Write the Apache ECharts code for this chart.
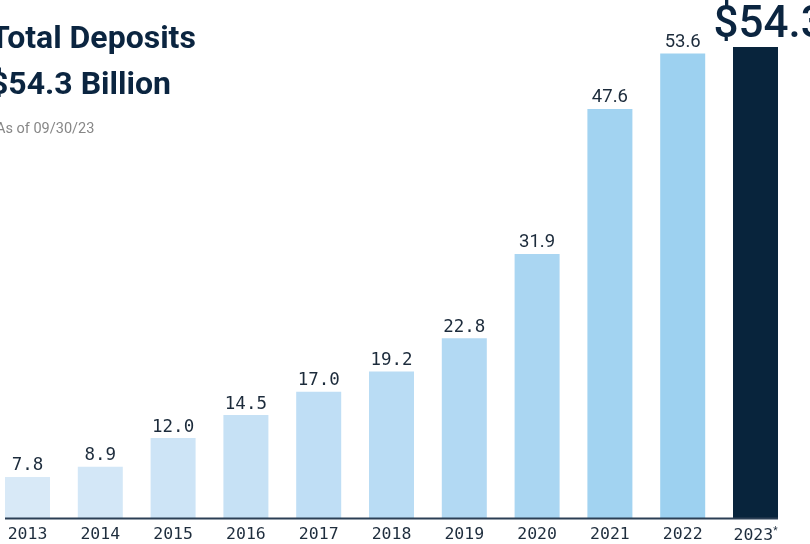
<!DOCTYPE html>
<html>
<head>
<meta charset="utf-8">
<script src="https://cdn.jsdelivr.net/npm/echarts@6/dist/echarts.min.js"></script>
<style>
  html, body { margin: 0; padding: 0; background: #fff; }
  #chart { width: 810px; height: 544px; }
</style>
</head>
<body>
<div id="chart"></div>
<script>
// 年份与存款（十亿美元）
var years = ['2013', '2014', '2015', '2016', '2017', '2018', '2019', '2020', '2021', '2022', '2023'];
var deposits = [7.8, 8.9, 12.0, 14.5, 17.0, 19.2, 22.8, 31.9, 47.6, 53.6, 54.3];
var barColors = ['#d8e9f7', '#d3e7f7', '#cde4f6', '#c6e1f5', '#bfdef5', '#b9dcf4', '#b2d9f3', '#aad6f2', '#a2d3f1', '#9dd1f0', '#08243c'];

var navy = '#0b2540';
var mono = '"DejaVu Sans Mono", monospace';
var axisMin = 3.3;

var seriesData = [];
for (var i = 0; i < years.length; i++) {
    var item = {
        value: deposits[i],
        itemStyle: { color: barColors[i] },
        label: {
            fontFamily: i < 7 ? mono : 'Roboto',
            fontSize: i < 7 ? 17.5 : 18.5
        }
    };
    // 最后一年：大号标签
    if (i === years.length - 1) {
        item.label = {
            fontFamily: 'Roboto',
            fontSize: 44,
            fontWeight: 500,
            align: 'left',
            offset: [-42, 1],
            distance: 0,
            color: navy
        };
    }
    seriesData.push(item);
}

var myChart = echarts.init(document.getElementById('chart'));
var option = {
    animation: false,
    title: [{
        text: 'Total Deposits',
        left: -15,
        top: 19,
        textStyle: { color: navy, fontFamily: 'Roboto', fontSize: 32, fontWeight: 'bold' }
    }, {
        text: '$54.3 Billion',
        left: -15,
        top: 65,
        textStyle: { color: navy, fontFamily: 'Roboto', fontSize: 32, fontWeight: 'bold' }
    }, {
        text: 'As of 09/30/23',
        left: -9,
        top: 117,
        textStyle: { color: '#878787', fontFamily: 'Roboto', fontSize: 14.5, fontWeight: 'normal' }
    }],
    // 类目点位于首尾柱中心
    grid: { left: 27.5, right: 54.5, top: 47, bottom: 22 },
    xAxis: {
        type: 'category',
        data: years,
        boundaryGap: false,
        axisLine: { show: false, onZero: false },
        axisTick: { show: false },
        axisLabel: {
            interval: 0,
            margin: 8,
            fontFamily: mono,
            fontSize: 16.5,
            color: '#1e2d3d',
            formatter: function(v) {
                return v === '2023' ? '{a|2023}{s|*}' : v;
            },
            rich: {
                a: { fontFamily: mono, fontSize: 16.5, color: '#1e2d3d' },
                s: { fontFamily: 'Roboto', fontSize: 10, color: '#1e2d3d', padding: [0, 0, 8, 0] }
            }
        }
    },
    yAxis: {
        type: 'value',
        min: axisMin,
        max: 54.3,
        startValue: axisMin,
        show: false
    },
    series: [{
        type: 'bar',
        barWidth: 45,
        clip: false,
        data: seriesData,
        label: {
            show: true,
            position: 'top',
            distance: 2,
            color: '#1c2b3b',
            formatter: function(p) {
                var s = p.value.toFixed(1);
                return p.dataIndex === years.length - 1 ? '$' + s : s;
            }
        }
    }]
};
myChart.setOption(option);

// 底部基线：从第一根柱子左边缘到最后一根柱子右边缘
var p0 = myChart.convertToPixel({ xAxisIndex: 0 }, years[0]);
var p1 = myChart.convertToPixel({ xAxisIndex: 0 }, years[years.length - 1]);
var yBase = myChart.convertToPixel({ yAxisIndex: 0 }, axisMin);
myChart.setOption({
    graphic: [{
        type: 'line',
        z: 10,
        shape: { x1: p0 - 22.5, y1: yBase, x2: p1 + 22.5, y2: yBase },
        style: { stroke: '#2b3f55', lineWidth: 2 }
    }]
});
</script>
</body>
</html>
